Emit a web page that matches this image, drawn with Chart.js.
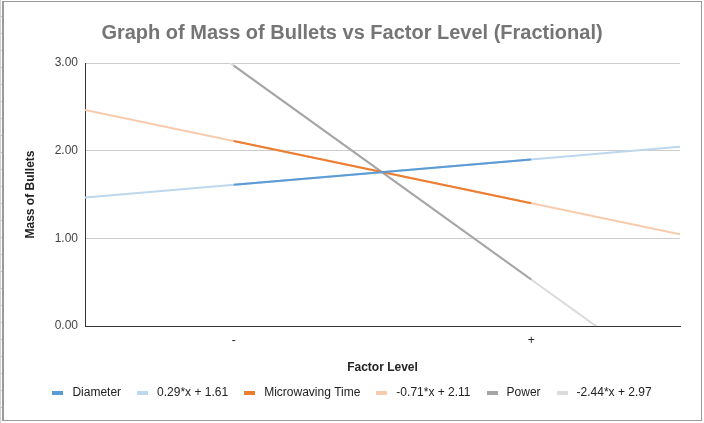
<!DOCTYPE html>
<html>
<head>
<meta charset="utf-8">
<script src="https://cdn.jsdelivr.net/npm/chart.js@4.4.1/dist/chart.umd.min.js"></script>
<style>
  html, body { margin: 0; padding: 0; background: #fff; }
  #wrap { position: relative; width: 704px; height: 423px; overflow: hidden; }
  #c { position: absolute; left: 0; top: 0; }
  #border { position: absolute; left: 2px; top: 1px; width: 697px; height: 418px; border: 1px solid #9a9a9a; border-left-width: 2px; pointer-events: none; }
  #grid { position: absolute; left: 0; top: 0; width: 2px; height: 423px;
    background: repeating-linear-gradient(to bottom, transparent 0px, transparent 16px, #c8c8c8 16px, #c8c8c8 17px);
    border-left: 1px solid #d0d0d0; box-sizing: border-box; }
</style>
</head>
<body>
<div id="wrap">
  <canvas id="c" width="704" height="423"></canvas>
  <div id="grid"></div>
  <div id="border"></div>
</div>
<script>
// Factor levels (x positions 0 and 1), trendline extent at plot edges
const categories = ['-', '+'];
const levelX = [0, 1];
const edgeX = [-0.5, 1.5];

const diameter = [1.61, 1.90];
const microwaving = [2.11, 1.40];
const power = [2.97, 0.53];

// trendline values read at the left / right plot edges
const diameterTrend = [1.465, 2.045];
const microwavingTrend = [2.465, 1.045];
const powerTrend = [4.19, -0.69];

const yTicks = [0, 1, 2, 3];

const seriesNames = ['Diameter', '0.29*x + 1.61', 'Microwaving Time', '-0.71*x + 2.11', 'Power', '-2.44*x + 2.97'];
const colors = ['#5b9bd5', '#bdd7ee', '#ed7d31', '#f8cbad', '#a5a5a5', '#dbdbdb'];

function pts(xs, ys) { return xs.map((x, i) => ({ x: x, y: ys[i] })); }

const seriesData = [
  pts(levelX, diameter), pts(edgeX, diameterTrend),
  pts(levelX, microwaving), pts(edgeX, microwavingTrend),
  pts(levelX, power), pts(edgeX, powerTrend)
];

const datasets = seriesData.map((d, i) => ({
  label: seriesNames[i],
  data: d,
  borderColor: colors[i],
  backgroundColor: colors[i],
  borderWidth: 2,
  pointRadius: 0,
  pointHoverRadius: 0,
  fill: false,
  tension: 0,
  order: i % 2 === 0 ? 0 : 1
}));

Chart.defaults.font.family = 'Arial, "Liberation Sans", sans-serif';

const legendMarkers = {
  id: 'legendMarkers',
  afterDraw(chart) {
    const lg = chart.legend;
    if (!lg || !lg.legendHitBoxes) return;
    const ctx = chart.ctx;
    ctx.save();
    lg.legendHitBoxes.forEach((b, i) => {
      ctx.fillStyle = colors[i];
      ctx.fillRect(Math.round(b.left), Math.round(b.top + b.height / 2 - 2), 11, 4);
    });
    ctx.restore();
  }
};

new Chart(document.getElementById('c'), {
  type: 'line',
  data: { datasets: datasets },
  plugins: [legendMarkers],
  options: {
    responsive: false,
    animation: false,
    devicePixelRatio: 1,
    layout: { padding: { left: 24, right: 24, top: 0, bottom: 14 } },
    plugins: {
      title: {
        display: true,
        text: 'Graph of Mass of Bullets vs Factor Level (Fractional)',
        color: '#757575',
        font: { size: 20, weight: 'bold' },
        padding: { top: 21, bottom: 18 }
      },
      legend: {
        position: 'bottom',
        labels: {
          boxWidth: 14,
          boxHeight: 4,
          padding: 16,
          color: '#222',
          font: { size: 12 },
          generateLabels: (chart) => chart.data.datasets.map((ds, i) => ({
            text: ds.label, fillStyle: 'rgba(0,0,0,0)', strokeStyle: 'rgba(0,0,0,0)',
            lineWidth: 0, hidden: false, datasetIndex: i, fontColor: '#222'
          }))
        }
      },
      tooltip: { enabled: false }
    },
    scales: {
      x: {
        type: 'linear',
        min: edgeX[0],
        max: edgeX[1],
        afterBuildTicks: (s) => { s.ticks = levelX.map(v => ({ value: v })); },
        afterFit: (s) => { s.height = 45; },
        ticks: {
          color: '#222',
          font: { size: 12 },
          padding: 7,
          autoSkip: false,
          maxRotation: 0,
          callback: (v) => { const i = levelX.indexOf(v); return i >= 0 ? categories[i] : ''; }
        },
        grid: { display: false, drawTicks: false },
        border: { display: true, color: '#333', width: 1 },
        title: {
          display: true,
          text: 'Factor Level',
          color: '#222',
          font: { size: 12, weight: 'bold' },
          padding: { top: 0, bottom: -4 }
        }
      },
      y: {
        type: 'linear',
        min: 0,
        max: 3,
        afterBuildTicks: (s) => { s.ticks = yTicks.map(v => ({ value: v })); },
        afterFit: (s) => { s.width = 61; },
        ticks: {
          color: '#444',
          font: { size: 12 },
          padding: 7,
          callback: (v) => v.toFixed(2)
        },
        grid: { color: '#cccccc', lineWidth: 1, drawTicks: false },
        border: { display: true, color: '#333', width: 1 },
        title: {
          display: true,
          text: 'Mass of Bullets',
          color: '#222',
          font: { size: 12, weight: 'bold' },
          padding: { top: -1, bottom: 0 }
        }
      }
    }
  }
});
</script>
</body>
</html>
